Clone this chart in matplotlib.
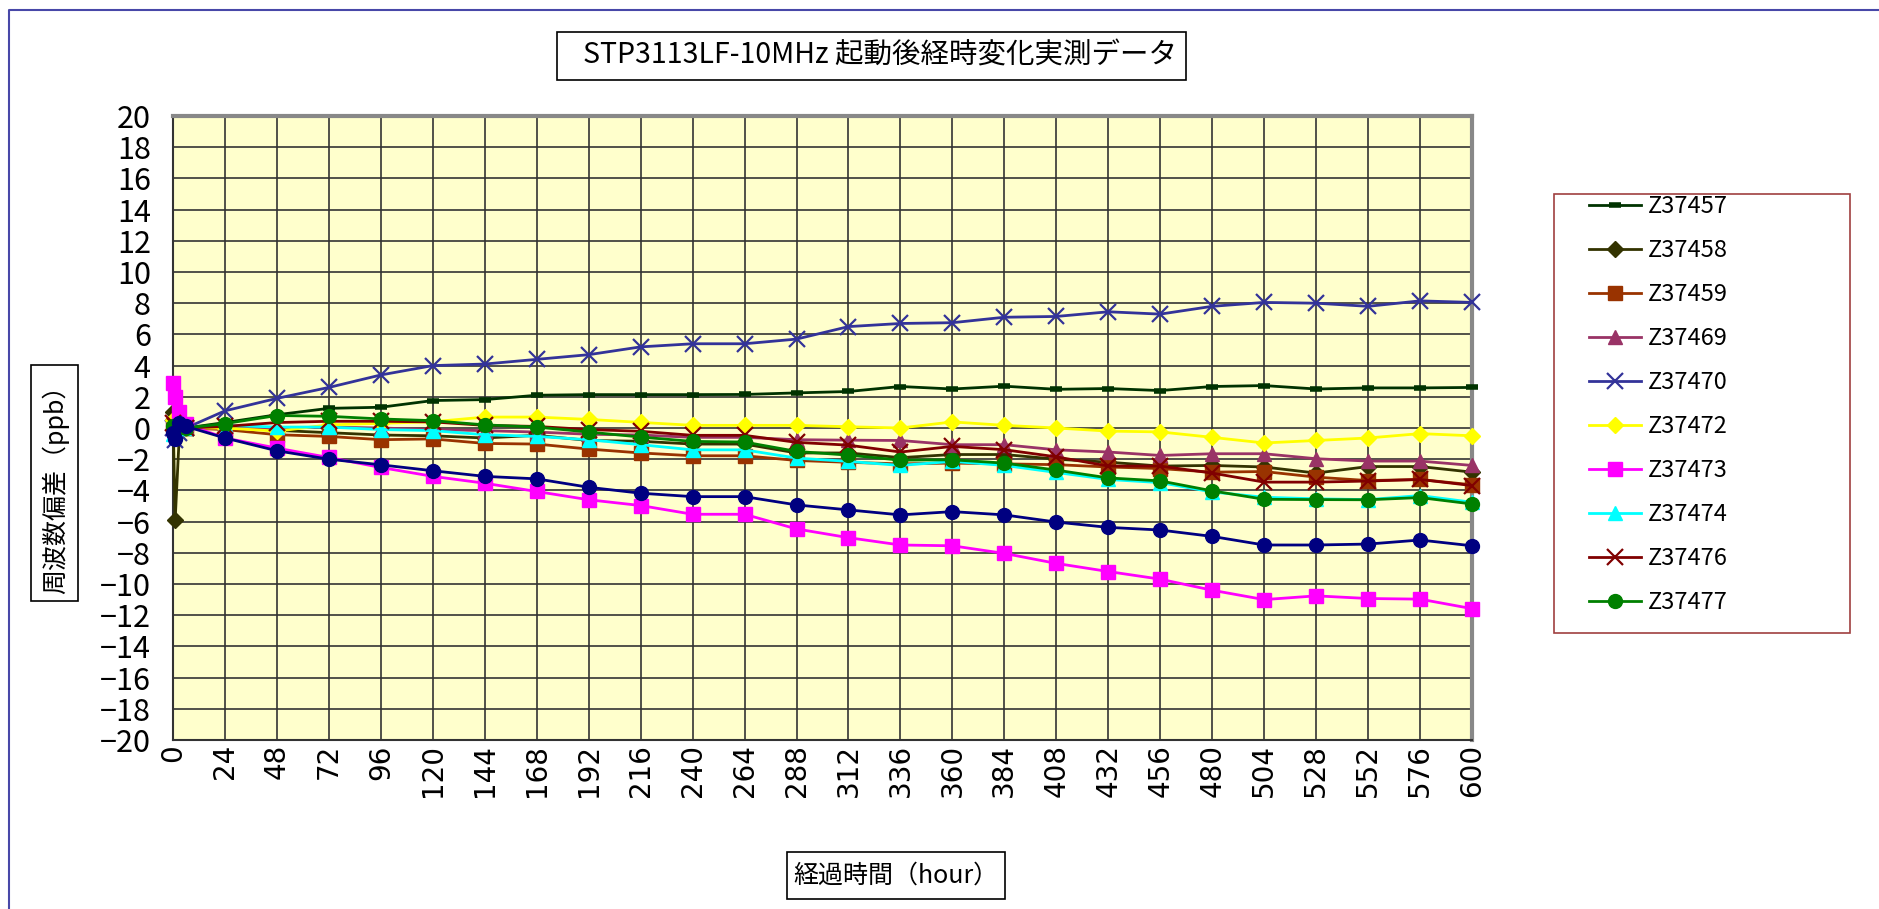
import matplotlib
matplotlib.use("Agg")
import matplotlib.pyplot as plt
from matplotlib.patches import Rectangle
from matplotlib.lines import Line2D

plt.rcParams['font.family'] = ['Noto Sans CJK JP', 'DejaVu Sans']

# elapsed hours (first few points are the start-up readings)
hours = [0, 1, 3, 6, 24, 48, 72, 96, 120, 144, 168, 192, 216, 240, 264, 288,
         312, 336, 360, 384, 408, 432, 456, 480, 504, 528, 552, 576, 600]

z37457 = [0.0, 0.2, 0.1, 0.0, 0.35, 0.85, 1.26, 1.33, 1.76, 1.82, 2.1, 2.14, 2.14, 2.14,
          2.15, 2.25, 2.34, 2.66, 2.5, 2.68, 2.48, 2.53, 2.4, 2.66, 2.72, 2.5, 2.57, 2.57, 2.6]
z37458 = [1.0, -5.9, -0.2, 0.0, 0.1, -0.15, -0.3, -0.45, -0.5, -0.64, -0.47, -0.8, -0.85, -1.03,
          -1.03, -1.6, -1.6, -1.9, -1.7, -1.7, -2.0, -2.19, -2.44, -2.4, -2.5, -2.89, -2.47, -2.47, -2.83]
z37459 = [0.2, 0.0, 0.1, 0.0, -0.1, -0.43, -0.54, -0.75, -0.7, -0.99, -1.03, -1.35, -1.6, -1.78,
          -1.78, -2.08, -2.2, -2.3, -2.25, -2.3, -2.35, -2.5, -2.6, -2.83, -2.79, -3.15, -3.37, -3.3, -3.64]
z37469 = [0.0, -0.2, 0.1, 0.0, 0.0, 0.0, 0.06, 0.0, -0.1, -0.17, -0.26, -0.4, -0.45, -0.6,
          -0.6, -0.75, -0.78, -0.8, -1.07, -1.07, -1.4, -1.54, -1.76, -1.65, -1.65, -1.97, -2.12, -2.12, -2.4]
z37470 = [0.0, -0.8, -0.3, 0.0, 1.1, 1.9, 2.6, 3.4, 4.0, 4.1, 4.4, 4.7, 5.2, 5.4,
          5.4, 5.7, 6.5, 6.7, 6.75, 7.1, 7.15, 7.45, 7.3, 7.8, 8.05, 8.0, 7.8, 8.15, 8.05]
z37472 = [0.5, 0.2, 0.1, 0.0, 0.0, -0.2, 0.2, 0.3, 0.4, 0.7, 0.7, 0.55, 0.36, 0.17,
          0.17, 0.17, 0.08, 0.0, 0.39, 0.17, 0.0, -0.2, -0.25, -0.6, -0.96, -0.8, -0.64, -0.36, -0.5]
z37473 = [2.9, 2.0, 1.0, 0.25, -0.64, -1.29, -1.89, -2.53, -3.1, -3.54, -4.07, -4.6, -4.97, -5.53,
          -5.53, -6.47, -7.03, -7.5, -7.55, -8.04, -8.68, -9.2, -9.69, -10.4, -11.0, -10.76, -10.93, -10.97, -11.58]
z37474 = [-0.4, -0.3, 0.0, 0.0, 0.17, 0.06, 0.06, -0.1, -0.17, -0.43, -0.54, -0.75, -1.07, -1.4,
          -1.4, -1.93, -2.14, -2.4, -2.14, -2.4, -2.85, -3.3, -3.5, -4.1, -4.44, -4.54, -4.59, -4.33, -4.76]
z37476 = [0.3, 0.1, 0.0, 0.0, 0.1, 0.35, 0.43, 0.43, 0.39, 0.17, 0.1, -0.1, -0.21, -0.47,
          -0.47, -0.92, -1.1, -1.54, -1.18, -1.39, -1.85, -2.44, -2.44, -2.89, -3.47, -3.47, -3.4, -3.3, -3.69]
z37477 = [0.1, -0.2, 0.1, 0.0, 0.28, 0.8, 0.75, 0.58, 0.47, 0.2, 0.06, -0.26, -0.58, -0.86,
          -0.9, -1.5, -1.74, -2.06, -2.04, -2.25, -2.7, -3.2, -3.39, -4.03, -4.57, -4.59, -4.6, -4.46, -4.87]
# 11th series, not shown in the legend
extra = [-0.3, -0.7, 0.35, 0.1, -0.64, -1.46, -2.0, -2.36, -2.74, -3.1, -3.26, -3.8, -4.18, -4.4,
         -4.4, -4.93, -5.25, -5.57, -5.36, -5.57, -6.03, -6.37, -6.54, -6.95, -7.5, -7.5, -7.44, -7.18, -7.55]

series = [
    ('Z37457', z37457, '#003300', '_'),
    ('Z37458', z37458, '#333300', 'D'),
    ('Z37459', z37459, '#993300', 's'),
    ('Z37469', z37469, '#993366', '^'),
    ('Z37470', z37470, '#333399', 'x'),
    ('Z37472', z37472, '#FFFF00', 'D'),
    ('Z37473', z37473, '#FF00FF', 's'),
    ('Z37474', z37474, '#00FFFF', '^'),
    ('Z37476', z37476, '#800000', 'x'),
    ('Z37477', z37477, '#008000', 'o'),
    (None, extra, '#000080', 'o'),
]

xticks = [0, 24, 48, 72, 96, 120, 144, 168, 192, 216, 240, 264, 288, 312,
          336, 360, 384, 408, 432, 456, 480, 504, 528, 552, 576, 600]
yticks = [-20, -18, -16, -14, -12, -10, -8, -6, -4, -2, 0, 2, 4, 6, 8, 10, 12, 14, 16, 18, 20]

W, H = 1879, 909
fig = plt.figure(figsize=(W / 100, H / 100), dpi=100)
ax = fig.add_axes([173 / W, 1 - 740 / H, (1472 - 173) / W, (740 - 116) / H])
ax.set_facecolor('#FFFFCC')

handles = []
for name, vals, col, mk in series:
    kw = dict(color=col, lw=2, marker=mk, ms=10, mfc=col, mec=col, clip_on=False, zorder=3)
    if mk == 'x':
        kw.update(ms=11, mew=1.6)
    elif mk == '_':
        kw.update(ms=9, mew=4)
    elif mk == 'D':
        kw.update(ms=8.5)
    line, = ax.plot(hours, vals, **kw)
    if name:
        line.set_label(name)
        handles.append(line)

ax.set_xlim(0, 600)
ax.set_ylim(-20, 20)
ax.set_xticks(xticks)
ax.set_yticks(yticks)
ax.set_xticklabels([str(t) for t in xticks], rotation=90, fontsize=20, family='DejaVu Sans')
ax.set_yticklabels([str(t).replace('-', '\u2212') for t in yticks], fontsize=22)
ax.tick_params(axis='x', length=0, pad=3)
ax.tick_params(axis='y', length=0, pad=16)
ax.grid(True, color='#333333', lw=1.2, zorder=1)
ax.set_axisbelow(True)
for side in ['top', 'right']:
    ax.spines[side].set_color('#888888')
    ax.spines[side].set_linewidth(3)
for side in ['left', 'bottom']:
    ax.spines[side].set_color('#333333')
    ax.spines[side].set_linewidth(1.5)

# title box
fig.patches.append(Rectangle((557 / W, 1 - 80 / H), (1186 - 557) / W, 48 / H,
                             transform=fig.transFigure, fc='white', ec='black', lw=1.2))
fig.text(880 / W, 1 - 56 / H, 'STP3113LF-10MHz 起動後経時変化実測データ',
         ha='center', va='center', fontsize=20.5)

# y label box
fig.patches.append(Rectangle((31 / W, 1 - 601 / H), 47 / W, (601 - 365) / H,
                             transform=fig.transFigure, fc='white', ec='black', lw=1.2))
fig.text(55 / W, 1 - 483 / H, '周波数偏差（ppb）', rotation=90,
         ha='center', va='center', fontsize=18)

# x label box
fig.patches.append(Rectangle((787 / W, 1 - 899 / H), (1005 - 787) / W, 47 / H,
                             transform=fig.transFigure, fc='white', ec='black', lw=1.2))
fig.text(896 / W, 1 - 876 / H, '経過時間（hour）', ha='center', va='center', fontsize=18)

# legend box
fig.patches.append(Rectangle((1554 / W, 1 - 633 / H), (1850 - 1554) / W, (633 - 194) / H,
                             transform=fig.transFigure, fc='white', ec='#A04040', lw=1.2))
fig.legend(handles=handles, loc='upper left', bbox_to_anchor=(1589 / W, 1 - 195 / H),
           frameon=False, fontsize=17, handlelength=2.2, labelspacing=0.89,
           handletextpad=0.3, borderaxespad=0, borderpad=0)

# outer chart border (top and left edges)
fig.add_artist(Line2D([9 / W, 9 / W, 1], [0, 1 - 10 / H, 1 - 10 / H],
                      transform=fig.transFigure, color='#4848A8', lw=1.5))

fig.savefig('out.png', dpi=100)
